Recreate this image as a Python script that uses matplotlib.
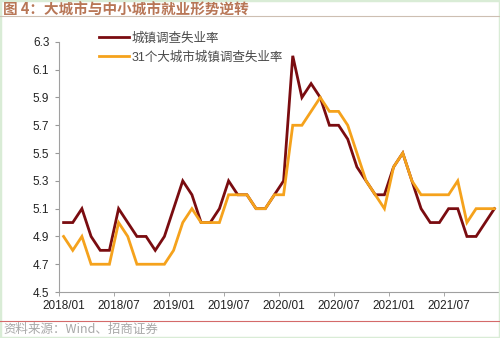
import matplotlib
matplotlib.use("Agg")
import matplotlib.pyplot as plt
from matplotlib.lines import Line2D
from matplotlib.patches import Rectangle

plt.rcParams['font.family'] = ['Liberation Sans', 'Noto Sans CJK SC', 'DejaVu Sans']

# Monthly data, 2018/01 - 2021/12
months = [f"{y}/{m:02d}" for y in range(2018, 2022) for m in range(1, 13)]
urban_rate = [5.0, 5.0, 5.1, 4.9, 4.8, 4.8, 5.1, 5.0, 4.9, 4.9, 4.8, 4.9,
              5.1, 5.3, 5.2, 5.0, 5.0, 5.1, 5.3, 5.2, 5.2, 5.1, 5.1, 5.2,
              5.3, 6.2, 5.9, 6.0, 5.9, 5.7, 5.7, 5.6, 5.4, 5.3, 5.2, 5.2,
              5.4, 5.5, 5.3, 5.1, 5.0, 5.0, 5.1, 5.1, 4.9, 4.9, 5.0, 5.1]
city31_rate = [4.9, 4.8, 4.9, 4.7, 4.7, 4.7, 5.0, 4.9, 4.7, 4.7, 4.7, 4.7,
               4.8, 5.0, 5.1, 5.0, 5.0, 5.0, 5.2, 5.2, 5.2, 5.1, 5.1, 5.2,
               5.2, 5.7, 5.7, 5.8, 5.9, 5.8, 5.8, 5.7, 5.5, 5.3, 5.2, 5.1,
               5.4, 5.5, 5.3, 5.2, 5.2, 5.2, 5.2, 5.3, 5.0, 5.1, 5.1, 5.1]
series_names = ["城镇调查失业率", "31个大城市城镇调查失业率"]
yticks = [4.5, 4.7, 4.9, 5.1, 5.3, 5.5, 5.7, 5.9, 6.1, 6.3]

fig = plt.figure(figsize=(5.0, 3.38), dpi=100)
ax = fig.add_axes([0.118, 0.136, 0.880, 0.740])

x = list(range(len(months)))
ax.plot(x, urban_rate, color="#7a0c10", lw=2.0, label=series_names[0], solid_joinstyle="miter")
ax.plot(x, city31_rate, color="#f5a21c", lw=2.0, label=series_names[1], solid_joinstyle="miter")

ax.set_xlim(-0.5, len(months) - 0.5)
ax.set_ylim(4.5, 6.3)
ax.set_yticks(yticks)
ax.set_yticklabels([f"{v:.1f}" for v in yticks])

# labels at category centres, tick marks on category boundaries
lab_idx = list(range(0, len(months), 6))
ax.set_xticks(lab_idx)
ax.set_xticklabels([months[i] for i in lab_idx])
ax.set_xticks([i - 0.5 for i in lab_idx], minor=True)
ax.tick_params(axis='x', which='major', length=0, pad=6, labelsize=8.5, colors="#222222")
ax.tick_params(axis='x', which='minor', length=3, color="#999999", direction='out')
ax.tick_params(axis='y', length=3, color="#999999", labelsize=8.5, pad=4)
ax.tick_params(axis='y', colors="#999999", labelcolor="#222222")

for s in ("top", "right"):
    ax.spines[s].set_visible(False)
for s in ("left", "bottom"):
    ax.spines[s].set_color("#a0a0a0")
    ax.spines[s].set_linewidth(0.8)

leg = ax.legend(loc="upper left", bbox_to_anchor=(0.198, 0.905), bbox_transform=fig.transFigure,
                frameon=False, prop={'family': ['Liberation Sans', 'Noto Sans CJK SC'], 'size': 9},
                handlelength=2.4, handletextpad=0.2, labelspacing=0.55, borderpad=0, borderaxespad=0)
for t in leg.get_texts():
    t.set_color("#4a4a4a")

# header, rules and source note
fig.text(0.006, 0.972, "图 4：大城市与中小城市就业形势逆转", fontsize=10.5, fontweight="bold",
         color="#b87656", family=['Noto Sans CJK SC'], va="center", ha="left")
fig.add_artist(Line2D([0.0, 1.0], [0.953, 0.953], transform=fig.transFigure, color="#cdbfb2", lw=0.8))
fig.add_artist(Line2D([0.0, 1.0], [0.050, 0.050], transform=fig.transFigure, color="#d46a6a", lw=0.8))
fig.text(0.006, 0.024, "资料来源：Wind、招商证券", fontsize=9, color="#a8a8a8",
         family=['Noto Sans CJK SC', 'Liberation Sans'], va="center", ha="left")
fig.add_artist(Rectangle((0, 0), 1, 1, transform=fig.transFigure, fill=False,
                         edgecolor="#d9ecd6", lw=2.5))

fig.savefig("out.png", dpi=100)
